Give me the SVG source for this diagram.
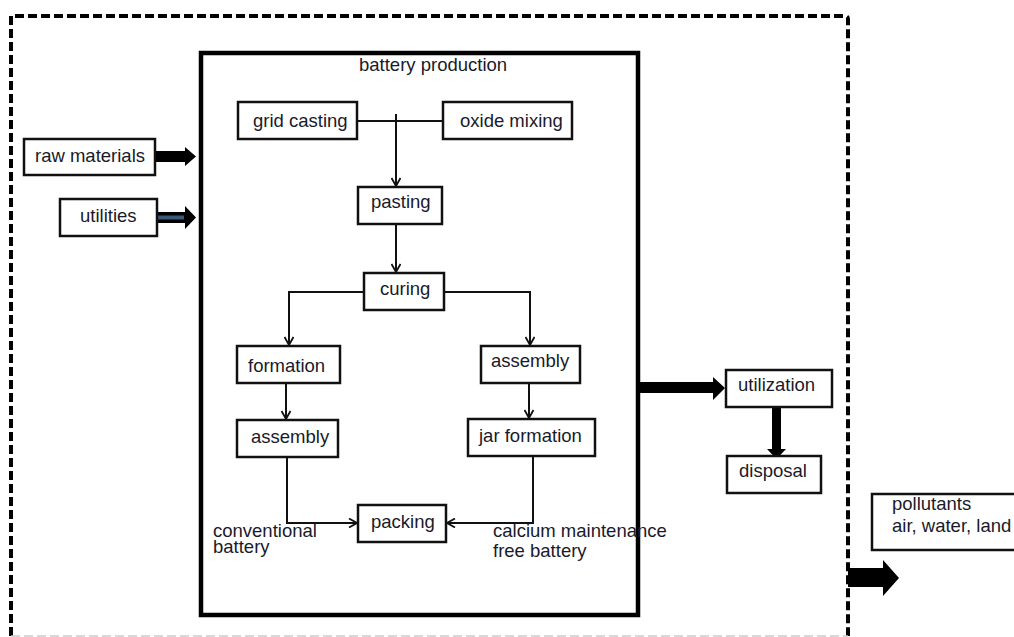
<svg xmlns="http://www.w3.org/2000/svg" width="1014" height="637" viewBox="0 0 1014 637">
<style>
.box{fill:#fff;stroke:#111;stroke-width:2.5}
.t{font-family:"Liberation Sans",Arial,sans-serif;font-size:18.5px;fill:#1a1a2a}
.c{fill:none;stroke:#111;stroke-width:2}
.big{fill:#000;stroke:none}
</style>
<defs>
<marker id="ah" viewBox="0 0 10 10" refX="9" refY="5" markerWidth="10" markerHeight="10" markerUnits="userSpaceOnUse" orient="auto">
<path d="M1,0.5 L9,5 L1,9.5" fill="none" stroke="#111" stroke-width="1.8"/>
</marker>
</defs>
<rect width="1014" height="637" fill="#fff"/>
<g id="boundary">
<path d="M11,636 L11,16 L845,16 Q848,16 848,19 L848,636" fill="none" stroke="#000" stroke-width="4" stroke-dasharray="9,4"/>
<path d="M11,636 L848,636" fill="none" stroke="#ccc" stroke-width="1.5" stroke-dasharray="9,4"/>
</g>
<g id="production">
<rect x="201" y="53" width="437" height="562" fill="none" stroke="#000" stroke-width="4.5"/>
<text class="t" x="359" y="71">battery production</text>
</g>
<g id="connectors">
<path class="c" d="M357,121 L443,121"/>
<path class="c" d="M396,114 L396,186" marker-end="url(#ah)"/>
<path class="c" d="M396,224 L396,272" marker-end="url(#ah)"/>
<path class="c" d="M364,292 L289,292 L289,345" marker-end="url(#ah)"/>
<path class="c" d="M444,292 L530,292 L530,345" marker-end="url(#ah)"/>
<path class="c" d="M286,383 L286,419" marker-end="url(#ah)"/>
<path class="c" d="M529,383 L529,418" marker-end="url(#ah)"/>
<path class="c" d="M287,457 L287,523 L357,523" marker-end="url(#ah)"/>
<path class="c" d="M533,456 L533,523 L447,523" marker-end="url(#ah)"/>
<path class="big" d="M155,151 L185,151 L185,147 L196,156.5 L185,166 L185,162 L155,162 Z"/>
<path d="M157,212 L185,212 L185,206 L196,217.5 L185,229 L185,223 L157,223 Z" fill="#000"/>
<rect x="158" y="215.5" width="26" height="4" fill="#3a5878"/>
<path class="big" d="M640,382 L713,382 L713,377 L725,388 L713,400 L713,393 L640,393 Z"/>
<path class="big" d="M772,407 L781,407 L781,449 L786,449 L776.5,459 L767,449 L772,449 Z"/>
<path class="big" d="M848,568 L883,568 L883,560 L899,578 L883,596 L883,587 L848,587 Z"/>
</g>
<g id="grid-casting"><rect class="box" x="238" y="102" width="119" height="37"/><text class="t" x="253" y="127">grid casting</text></g>
<g id="oxide-mixing"><rect class="box" x="443" y="102" width="129" height="37"/><text class="t" x="460" y="127">oxide mixing</text></g>
<g id="pasting"><rect class="box" x="358" y="187" width="84" height="37"/><text class="t" x="371" y="208">pasting</text></g>
<g id="curing"><rect class="box" x="364" y="273" width="80" height="37"/><text class="t" x="380" y="295">curing</text></g>
<g id="formation"><rect class="box" x="237" y="346" width="103" height="37"/><text class="t" x="248" y="372">formation</text></g>
<g id="assembly-right"><rect class="box" x="481" y="346" width="99" height="37"/><text class="t" x="491" y="367">assembly</text></g>
<g id="assembly-left"><rect class="box" x="237" y="420" width="101" height="37"/><text class="t" x="251" y="443">assembly</text></g>
<g id="jar-formation"><rect class="box" x="468" y="419" width="127" height="37"/><text class="t" x="479" y="442">jar formation</text></g>
<g id="packing"><rect class="box" x="358" y="505" width="88" height="37"/><text class="t" x="371" y="528">packing</text></g>
<g id="conventional-label"><text class="t" x="213" y="537">conventional</text><text class="t" x="213" y="553">battery</text></g>
<g id="calcium-label"><text class="t" x="493" y="537">calcium maintenance</text><text class="t" x="493" y="557">free battery</text></g>
<g id="raw-materials"><rect class="box" x="24" y="139" width="131" height="36"/><text class="t" x="35" y="162">raw materials</text></g>
<g id="utilities"><rect class="box" x="60" y="199" width="97" height="37"/><text class="t" x="80" y="222">utilities</text></g>
<g id="utilization"><rect class="box" x="726" y="370" width="106" height="37"/><text class="t" x="738" y="391">utilization</text></g>
<g id="disposal"><rect class="box" x="727" y="456" width="94" height="37"/><text class="t" x="739" y="477">disposal</text></g>
<g id="pollutants"><rect class="box" x="872" y="494" width="160" height="56"/><text class="t" x="892" y="510">pollutants</text><text class="t" x="892" y="532">air, water, land</text></g>
</svg>
